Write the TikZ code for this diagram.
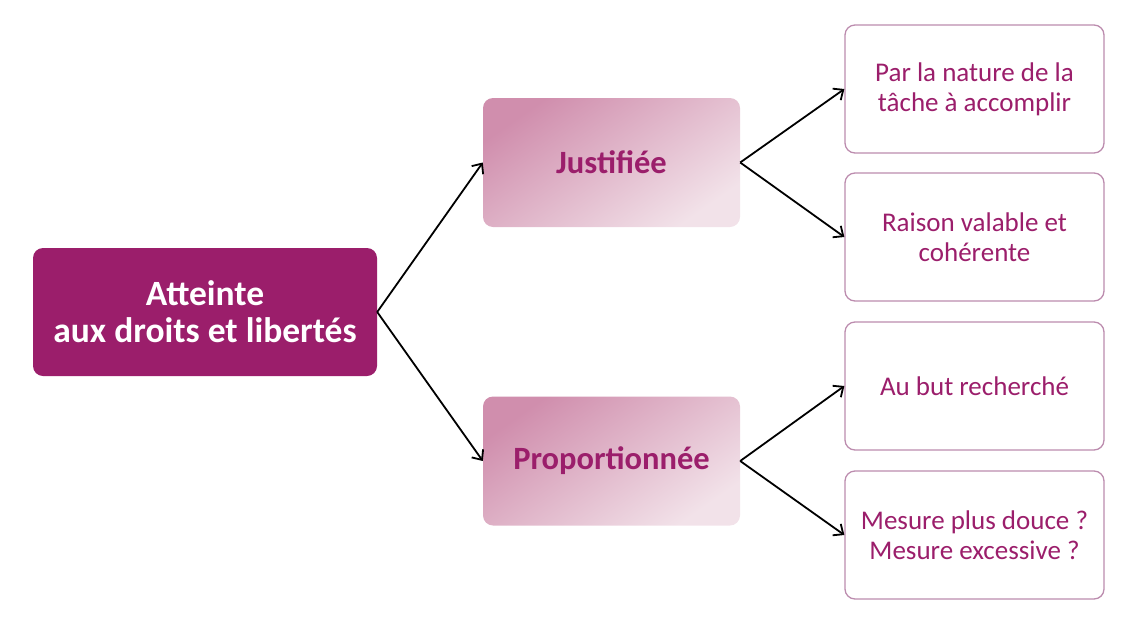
\documentclass[tikz,border=0pt]{standalone}
\usepackage{fontspec}
\setmainfont{Carlito}
\usetikzlibrary{arrows.meta}
\definecolor{prune}{RGB}{155,30,107}
\definecolor{rosefonce}{RGB}{208,142,173}
\definecolor{roseclair}{RGB}{242,226,233}
\definecolor{bordrose}{RGB}{188,140,174}
\begin{document}
\begin{tikzpicture}[x=1pt,y=-1pt,
  racine/.style={fill=prune, rounded corners=10pt, minimum width=344pt, minimum height=128pt,
    text=white, font=\fontsize{35.5}{37}\selectfont\bfseries, align=center, inner sep=0pt},
  critere/.style={rounded corners=10pt, minimum width=257pt, minimum height=129pt,
    top color=rosefonce, bottom color=roseclair, shading angle=35,
    text=prune, font=\fontsize{32.5}{36}\selectfont\bfseries, align=center, inner sep=0pt},
  detail/.style={draw=bordrose, line width=1.3pt, rounded corners=10pt, minimum width=259pt,
    minimum height=128pt, text=prune, font=\fontsize{27}{30}\selectfont, align=center, inner sep=0pt},
  fleche/.style={draw, line width=1.8pt, -{Straight Barb[length=8pt,width=14pt,line width=1.8pt]}}]
\useasboundingbox (0,0) rectangle (1130,640);

\node[racine] (atteinte) at (205,312) {Atteinte\\aux droits et libertés};
\node[critere] (justif) at (611.5,162.5) {Justifiée};
\node[critere] (prop) at (611.5,461) {Proportionnée};
\node[detail] (nature) at (974.5,89) {Par la nature de la\\tâche à accomplir};
\node[detail] (raison) at (974.5,237) {Raison valable et\\cohérente};
\node[detail] (but) at (974.5,386) {Au but recherché};
\node[detail] (mesure) at (974.5,535) {Mesure plus douce ?\\Mesure excessive ?};

\path[fleche] (atteinte.east) -- (justif.west);
\path[fleche] (atteinte.east) -- (prop.west);
\path[fleche] (justif.east) -- (nature.west);
\path[fleche] (justif.east) -- (raison.west);
\path[fleche] (prop.east) -- (but.west);
\path[fleche] (prop.east) -- (mesure.west);
\end{tikzpicture}
\end{document}
